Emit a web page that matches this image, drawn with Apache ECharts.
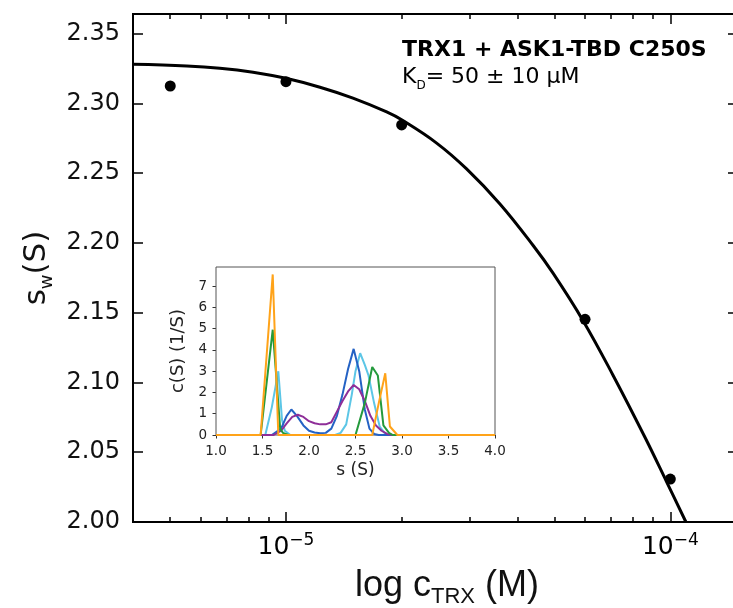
<!DOCTYPE html>
<html><head><meta charset="utf-8">
<script src="https://cdn.jsdelivr.net/npm/echarts@6/dist/echarts.min.js"></script>
<style>html,body{margin:0;padding:0;background:#fff}#c{width:733px;height:608px}</style>
</head><body><div id="c"></div>
<script>
// ---- main plot data ----
const concData = [5e-6, 1e-5, 2e-5, 6e-5, 1e-4];
const swData = [2.3124, 2.3155, 2.2845, 2.1452, 2.0308];
const fitConc = [4.0e-6, 5.52e-6, 6.73e-6, 8.21e-6, 1.0e-5, 1.226e-5, 1.494e-5, 1.828e-5, 2.01e-5, 2.466e-5, 2.951e-5, 3.604e-5, 4.397e-5, 4.958e-5, 5.934e-5, 7.10e-5, 8.59e-5, 9.78e-5, 1.098e-4];
const fitSw = [2.3280, 2.3268, 2.3252, 2.3223, 2.3179, 2.3115, 2.3037, 2.2938, 2.2878, 2.2715, 2.2530, 2.2279, 2.1981, 2.1781, 2.1441, 2.1050, 2.0607, 2.0288, 2.0000];
const yTicks = [2.00, 2.05, 2.10, 2.15, 2.20, 2.25, 2.30, 2.35];
const xMajorTicks = [1e-5, 1e-4];
const xMinorTicks = [5e-6, 6e-6, 7e-6, 8e-6, 9e-6, 2e-5, 3e-5, 4e-5, 5e-5, 6e-5, 7e-5, 8e-5, 9e-5];
const titleLine1 = 'TRX1 + ASK1-TBD C250S';
// ---- inset data ----
const insetXTicks = [1.0, 1.5, 2.0, 2.5, 3.0, 3.5, 4.0];
const insetYTicks = [0, 1, 2, 3, 4, 5, 6, 7];
const cCyan = [[1.0,0],[1.53,0],[1.6,1.3],[1.67,3.0],[1.71,0.7],[1.74,0.2],[1.8,0],[2.28,0],[2.34,0.1],[2.4,0.5],[2.46,1.9],[2.5,3.0],[2.55,3.85],[2.6,3.3],[2.64,2.8],[2.7,1.5],[2.76,0.4],[2.82,0.05],[2.86,0],[4.0,0]];
const cBlue = [[1.0,0],[1.6,0],[1.7,0.3],[1.76,0.9],[1.81,1.2],[1.87,0.9],[1.94,0.45],[2.0,0.2],[2.06,0.12],[2.12,0.08],[2.18,0.1],[2.24,0.3],[2.3,0.9],[2.36,1.9],[2.42,3.1],[2.48,4.05],[2.54,3.0],[2.6,1.2],[2.65,0.3],[2.7,0.05],[2.75,0],[4.0,0]];
const cPurple = [[1.0,0],[1.62,0],[1.7,0.2],[1.76,0.55],[1.82,0.85],[1.88,0.95],[1.94,0.85],[2.0,0.65],[2.06,0.55],[2.12,0.5],[2.18,0.5],[2.24,0.6],[2.3,1.1],[2.36,1.6],[2.42,2.05],[2.48,2.35],[2.54,2.15],[2.6,1.6],[2.66,0.9],[2.72,0.45],[2.78,0.2],[2.84,0.05],[2.9,0],[4.0,0]];
const cGreen = [[1.0,0],[1.48,0],[1.61,4.95],[1.69,0.3],[1.72,0.1],[1.78,0],[2.5,0],[2.6,1.5],[2.68,3.2],[2.74,2.8],[2.8,0.45],[2.86,0.1],[2.9,0],[4.0,0]];
const cOrange = [[1.0,0],[1.48,0],[1.61,7.55],[1.67,0],[2.68,0],[2.75,1.5],[2.82,2.9],[2.87,0.4],[2.95,0],[4.0,0]];

const chart = echarts.init(document.getElementById('c'), null, {renderer: 'canvas'});
const FONT = 'DejaVu Sans';
const xLabelFmt = v => { const e = Math.round(Math.log10(v)); return '{b|10}{s|\u2212' + (-e) + '}'; };
const logAxisBase = (pos, major, withLabel) => ({
  type: 'log', gridIndex: 0, position: pos, min: 4e-6, max: 1.5e-4, logBase: 10,
  axisLine: {show: false}, splitLine: {show: false}, minorTick: {show: false},
  axisTick: {show: true, inside: true, length: major ? 10 : 5, customValues: major ? xMajorTicks : xMinorTicks,
    lineStyle: {color: '#000', width: 1.5}},
  axisLabel: {show: withLabel, customValues: xMajorTicks, margin: 10, formatter: xLabelFmt,
    rich: {b: {fontSize: 25, fontFamily: FONT, lineHeight: 30, color: '#000'},
           s: {fontSize: 17, fontFamily: FONT, lineHeight: 16, verticalAlign: 'top', color: '#000'}}}
});
const yAxisBase = (pos) => ({
  type: 'value', gridIndex: 0, position: pos, min: 2.0, max: 2.364,
  axisLine: {show: false}, splitLine: {show: false},
  axisTick: {show: true, inside: true, length: 10, customValues: yTicks, lineStyle: {color: '#000', width: 1.5}},
  axisLabel: {show: pos === 'left', customValues: yTicks, margin: 13, fontSize: 24, fontFamily: FONT, color: '#111',
    formatter: v => v.toFixed(2)}
});
const insetLine = (data, color) => ({
  type: 'line', xAxisIndex: 4, yAxisIndex: 2, data: data, symbol: 'none', smooth: false,
  lineStyle: {color: color, width: 2}, z: 5
});

chart.setOption({
  animation: false,
  backgroundColor: '#fff',
  grid: [
    {left: 133, top: 14, right: -5, bottom: 86, show: true, borderColor: '#000', borderWidth: 2,
     backgroundColor: 'transparent', containLabel: false, outerBoundsMode: 'none'},
    {left: 216, top: 267, width: 279, height: 168, show: true, borderColor: '#555', borderWidth: 1,
     backgroundColor: '#fff', containLabel: false, outerBoundsMode: 'none', z: 3}
  ],
  xAxis: [
    logAxisBase('bottom', true, true),
    logAxisBase('bottom', false, false),
    logAxisBase('top', true, false),
    logAxisBase('top', false, false),
    {type: 'value', gridIndex: 1, min: 1.0, max: 4.0, position: 'bottom',
     axisLine: {show: false}, splitLine: {show: false},
     axisTick: {show: true, inside: false, length: 3.5, customValues: insetXTicks, lineStyle: {color: '#333', width: 1}},
     axisLabel: {customValues: insetXTicks, margin: 9, fontSize: 13.5, fontFamily: FONT, color: '#222', formatter: v => v.toFixed(1)},
     name: 's (S)', nameLocation: 'middle', nameGap: 27, nameTextStyle: {fontSize: 17, fontFamily: FONT, color: '#222'}}
  ],
  yAxis: [
    yAxisBase('left'),
    yAxisBase('right'),
    {type: 'value', gridIndex: 1, min: 0, max: 7.9, position: 'left',
     axisLine: {show: false}, splitLine: {show: false},
     axisTick: {show: true, inside: false, length: 3.5, customValues: insetYTicks, lineStyle: {color: '#333', width: 1}},
     axisLabel: {customValues: insetYTicks, margin: 9, fontSize: 13.5, fontFamily: FONT, color: '#222'},
     name: 'c(S) (1/S)', nameLocation: 'middle', nameGap: 29, nameTextStyle: {fontSize: 18, fontFamily: FONT, color: '#222'}}
  ],
  series: [
    {type: 'line', xAxisIndex: 0, yAxisIndex: 0, data: fitConc.map((c, i) => [c, fitSw[i]]),
     symbol: 'none', smooth: 0.4, lineStyle: {color: '#000', width: 3}, z: 2},
    {type: 'scatter', xAxisIndex: 0, yAxisIndex: 0, data: concData.map((c, i) => [c, swData[i]]),
     symbol: 'circle', symbolSize: 11, itemStyle: {color: '#000', opacity: 1}, z: 3},
    insetLine(cCyan, '#5cc6e6'),
    insetLine(cBlue, '#2462c4'),
    insetLine(cPurple, '#8e2e98'),
    insetLine(cGreen, '#249a3c'),
    insetLine(cOrange, '#ffa319')
  ],
  graphic: [
    {type: 'text', x: 402, y: 50.5, z: 10,
     style: {text: titleLine1, font: 'bold 22px "DejaVu Sans"', fill: '#000', align: 'left', verticalAlign: 'middle'}},
    {type: 'text', x: 402, y: 77.5, z: 10,
     style: {text: '{a|K}{s|D}{a|= 50 \u00b1 10 \u03bcM}', align: 'left', verticalAlign: 'middle',
       rich: {a: {fontSize: 22, fontFamily: FONT, lineHeight: 28, fill: '#000'},
              s: {fontSize: 12, fontFamily: FONT, lineHeight: 16, verticalAlign: 'bottom', fill: '#000'}}}},
    {type: 'text', x: 447, y: 586.5, z: 10,
     style: {text: '{a|log c}{b|TRX}{a| (M)}', align: 'center', verticalAlign: 'middle',
       rich: {a: {fontSize: 36, fontFamily: 'Liberation Sans', lineHeight: 42, fill: '#111'},
              b: {fontSize: 22, fontFamily: 'Liberation Sans', lineHeight: 19, verticalAlign: 'bottom', fill: '#111'}}}},
    {type: 'text', x: 37, y: 268, rotation: Math.PI / 2, z: 10,
     style: {text: '{a|s}{b|w}{a|(S)}', align: 'center', verticalAlign: 'middle',
       rich: {a: {fontSize: 31, fontFamily: FONT, lineHeight: 38, fill: '#111'},
              b: {fontSize: 18, fontFamily: FONT, lineHeight: 14, verticalAlign: 'bottom', fill: '#111'}}}}
  ]
});
</script>
</body></html>
